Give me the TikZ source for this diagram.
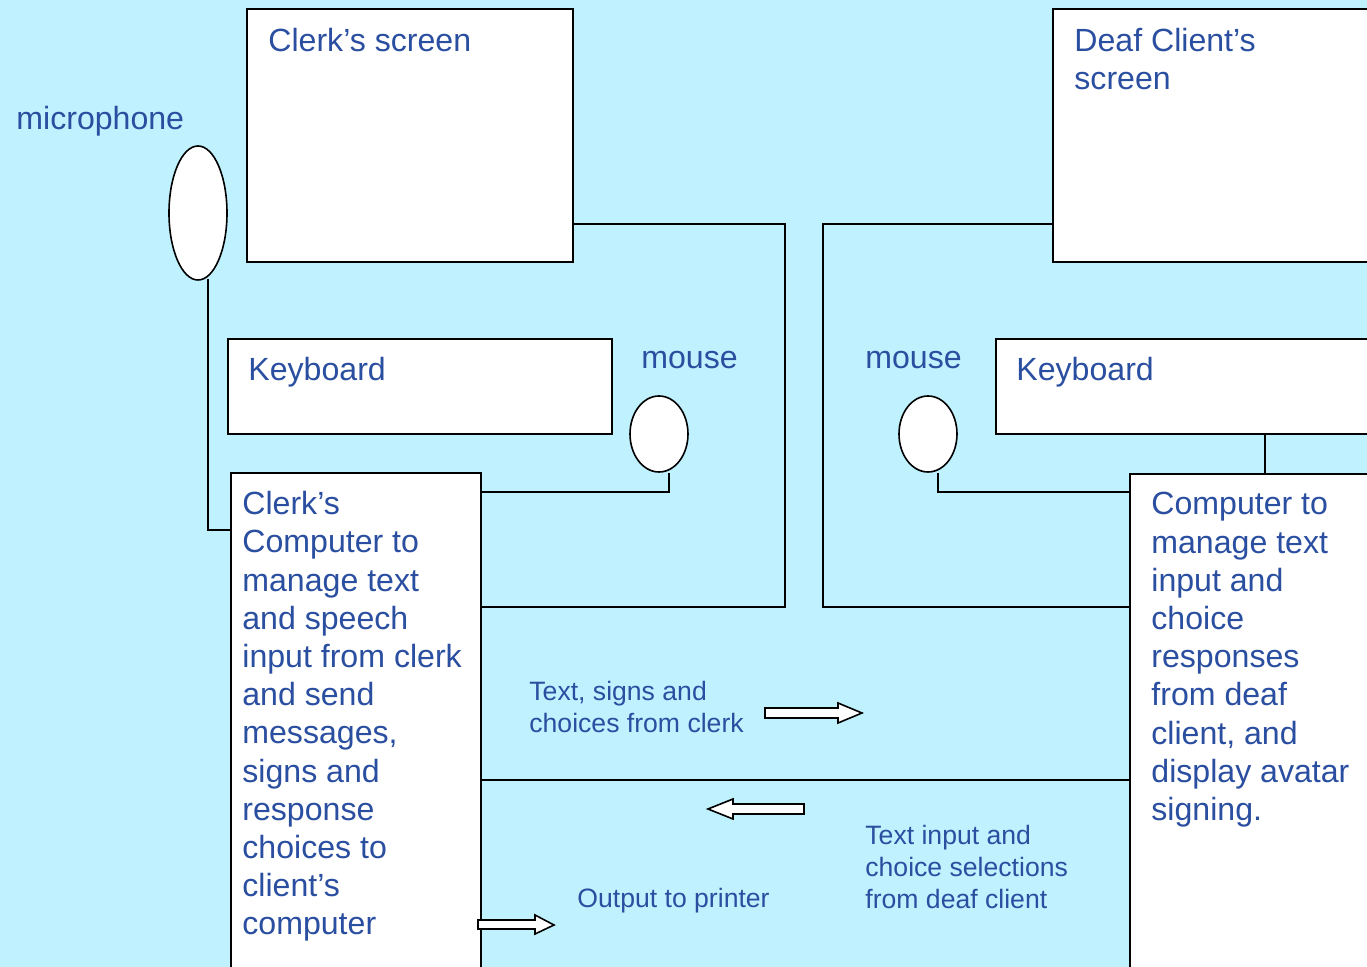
\documentclass[tikz,border=0pt]{standalone}
\usepackage{fontspec}
\setmainfont{Liberation Sans}
\usetikzlibrary{shapes.geometric}
\definecolor{bgc}{RGB}{191,242,254}
\definecolor{txtc}{RGB}{42,78,160}
\tikzset{
  box/.style={draw=black, line width=0.8pt, fill=white, rectangle, inner sep=0pt},
  oval/.style={draw=black, line width=0.8pt, fill=white, ellipse, inner sep=0pt},
  conn/.style={draw=black, line width=0.8pt},
  big/.style={text=txtc, inner sep=0pt, font=\fontsize{16.05}{19.1}\selectfont, align=left},
  small/.style={text=txtc, inner sep=0pt, font=\fontsize{13.3}{16}\selectfont, align=left},
  blockarrow/.style={draw=black, line width=0.8pt, fill=white, line join=miter}
}
\begin{document}
\begin{tikzpicture}[x=0.5pt, y=-0.5pt]
\fill[bgc] (0,0) rectangle (1367,967);
\useasboundingbox (0,0) rectangle (1367,967);
\clip (0,0) rectangle (1367,967);

% boxes
\node[box, minimum width=163pt, minimum height=126.5pt] (cscr) at (410,135.5) {};
\node[box, minimum width=163.5pt, minimum height=126.5pt] (rscr) at (1216.5,135.5) {};
\node[box, minimum width=192pt, minimum height=47.5pt] (lkey) at (420,386.5) {};
\node[box, minimum width=192pt, minimum height=47.5pt] (rkey) at (1188,386.5) {};
\node[box, minimum width=125pt, minimum height=253.5pt] (ccomp) at (356,726.5) {};
\node[box, minimum width=125pt, minimum height=253pt] (rcomp) at (1255,727) {};
\node[oval, minimum width=29pt, minimum height=67pt] (mic) at (198,213) {};
\node[oval, minimum width=29pt, minimum height=38pt] (lmouse) at (659,434) {};
\node[oval, minimum width=29pt, minimum height=38pt] (rmouse) at (928,434) {};

% connectors
\draw[conn] (cscr.east |- 0,224) -| (785,607) -- (ccomp.east |- 0,607);
\draw[conn] (rscr.west |- 0,224) -| (823,607) -- (rcomp.west |- 0,607);
\draw[conn] ([xshift=5pt,yshift=1pt]mic.south) |- (ccomp.west |- 0,530);
\draw[conn] ([xshift=5pt]lmouse.south) |- (ccomp.east |- 0,492);
\draw[conn] ([xshift=5pt]rmouse.south) |- (rcomp.west |- 0,492);
\draw[conn] (rkey.south -| 1265,0) -- (rcomp.north -| 1265,0);
\draw[conn] (ccomp.east |- 0,780) -- (rcomp.west |- 0,780);

% block arrows
\draw[blockarrow] (765,708) -- (838,708) -- (838,703) -- (862,713) -- (838,723) -- (838,718) -- (765,718) -- cycle;
\draw[blockarrow] (804,804) -- (733,804) -- (733,799) -- (708,809) -- (733,819) -- (733,814) -- (804,814) -- cycle;
\draw[blockarrow] (478,920) -- (535,920) -- (535,915) -- (554,925) -- (535,934) -- (535,929) -- (478,929) -- cycle;

% texts
\node[big, anchor=base west] (tmic) at (16,130) {microphone};
\node[big, anchor=base west] (tcscr) at (268,52) {Clerk’s screen};
\node[big, anchor=north west] (trscr) at (1074,28) {Deaf Client’s\\screen};
\node[big, anchor=base west] (tlkey) at (248,381) {Keyboard};
\node[big, anchor=base west] (trkey) at (1016,381) {Keyboard};
\node[big, anchor=base west] (tlmouse) at (641,369) {mouse};
\node[big, anchor=base west] (trmouse) at (865,369) {mouse};
\node[big, anchor=north west] (tccomp) at (242,491) {Clerk’s\\Computer to\\manage text\\and speech\\input from clerk\\and send\\messages,\\signs and\\response\\choices to\\client’s\\computer};
\node[big, anchor=north west] (trcomp) at (1151,492) {Computer to\\manage text\\input and\\choice\\responses\\from deaf\\client, and\\display avatar\\signing.};
\node[small, anchor=north west] (tsigns) at (529,681) {Text, signs and\\choices from clerk};
\node[small, anchor=north west] (tinput) at (865,825) {Text input and\\choice selections\\from deaf client};
\node[small, anchor=base west] (tprint) at (577,908) {Output to printer};
\end{tikzpicture}
\end{document}
